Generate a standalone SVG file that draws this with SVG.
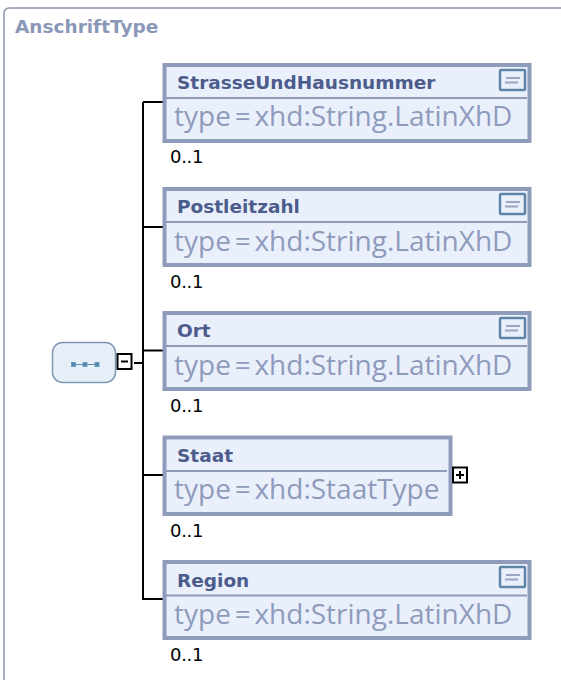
<svg xmlns="http://www.w3.org/2000/svg" width="561" height="680" viewBox="0 0 561 680">
<style>
.frame{fill:#fff;stroke:#8a95ac;stroke-width:1.5}
.title{font:bold 18.500px "DejaVu Sans",sans-serif;fill:#8a97b8}
.box{fill:#eaf0fb;stroke:#8e9bbb;stroke-width:4}
.sep{stroke:#8e9bbb;stroke-width:2;fill:none}
.name{font:bold 18.500px "DejaVu Sans",sans-serif;fill:#4c5c8c}
.type{font:28px "Open Sans",sans-serif;fill:#8e9bbb;word-spacing:-3.500px}
.occ{font:18px "DejaVu Sans",sans-serif;fill:#000;letter-spacing:-.3px}
.wire{stroke:#000;stroke-width:2;fill:none}
.tog{fill:#fff;stroke:#000;stroke-width:2}
.ann{fill:#eaf0fb;stroke:#5f86a8;stroke-width:2.500}
.annl{stroke:#9aa6c2;stroke-width:2;fill:none}
.dot{fill:#4f87ab;stroke:#6f9fc0;stroke-width:1}
</style>
<rect width="561" height="680" fill="#fff"/>
<path class="frame" d="M4 680V13a5 5 0 0 1 5-5H561"/>
<text class="title" x="15" y="33">AnschriftType</text>
<g id="connectors">
<path class="wire" d="M143 102H164M143 102V599H164M143 227H164M143 350.500H164M143 475H164M134 363H143"/>
</g>
<g id="sequence">
<rect x="52.500" y="342.500" width="63" height="40" rx="10" fill="#e6eef8" stroke="#7f97b5" stroke-width="1.500"/>
<path d="M72 364.500H99" stroke="#5f8fb0" stroke-width="1"/>
<rect class="dot" x="71.500" y="362.500" width="4" height="4"/><rect class="dot" x="83" y="362.500" width="4" height="4"/><rect class="dot" x="95" y="362.500" width="4" height="4"/>
<rect class="tog" x="117.500" y="354" width="14" height="15"/>
<path d="M121 361.500H128" stroke="#000" stroke-width="2"/>
</g>
<g id="StrasseUndHausnummer">
<rect class="box" x="164.500" y="65" width="365" height="76"/>
<path class="sep" d="M165 98H527"/>
<text class="name" x="177" y="89">StrasseUndHausnummer</text>
<text class="type" x="174" y="126">type = xhd:String.LatinXhD</text>
<rect class="ann" x="500" y="70" width="25" height="20" rx="1"/>
<path class="annl" d="M506 78H520M505 82.500H518"/>
<text class="occ" x="170" y="163">0..1</text>
</g>
<g id="Postleitzahl">
<rect class="box" x="164.500" y="189" width="365" height="76"/>
<path class="sep" d="M165 222H527"/>
<text class="name" x="177" y="213">Postleitzahl</text>
<text class="type" x="174" y="251">type = xhd:String.LatinXhD</text>
<rect class="ann" x="500" y="194" width="25" height="20" rx="1"/>
<path class="annl" d="M506 202H520M505 206.500H518"/>
<text class="occ" x="170" y="288">0..1</text>
</g>
<g id="Ort">
<rect class="box" x="164.500" y="313" width="365" height="76"/>
<path class="sep" d="M165 346H527"/>
<text class="name" x="177" y="337">Ort</text>
<text class="type" x="174" y="375">type = xhd:String.LatinXhD</text>
<rect class="ann" x="500" y="318" width="25" height="20" rx="1"/>
<path class="annl" d="M506 326H520M505 330.500H518"/>
<text class="occ" x="170" y="412">0..1</text>
</g>
<g id="Staat">
<rect class="box" x="164.500" y="437.500" width="286" height="76.500"/>
<path class="sep" d="M165 471H447"/>
<text class="name" x="177" y="462">Staat</text>
<text class="type" x="174" y="499">type = xhd:StaatType</text>
<rect class="tog" x="453" y="467.500" width="14" height="15"/>
<path d="M456 475H464M460 471V479" stroke="#000" stroke-width="2"/>
<text class="occ" x="170" y="537">0..1</text>
</g>
<g id="Region">
<rect class="box" x="164.500" y="562" width="365" height="76"/>
<path class="sep" d="M165 595.500H527"/>
<text class="name" x="177" y="587">Region</text>
<text class="type" x="174" y="624">type = xhd:String.LatinXhD</text>
<rect class="ann" x="500" y="567" width="25" height="20" rx="1"/>
<path class="annl" d="M506 575H520M505 579.500H518"/>
<text class="occ" x="170" y="661">0..1</text>
</g>
</svg>
